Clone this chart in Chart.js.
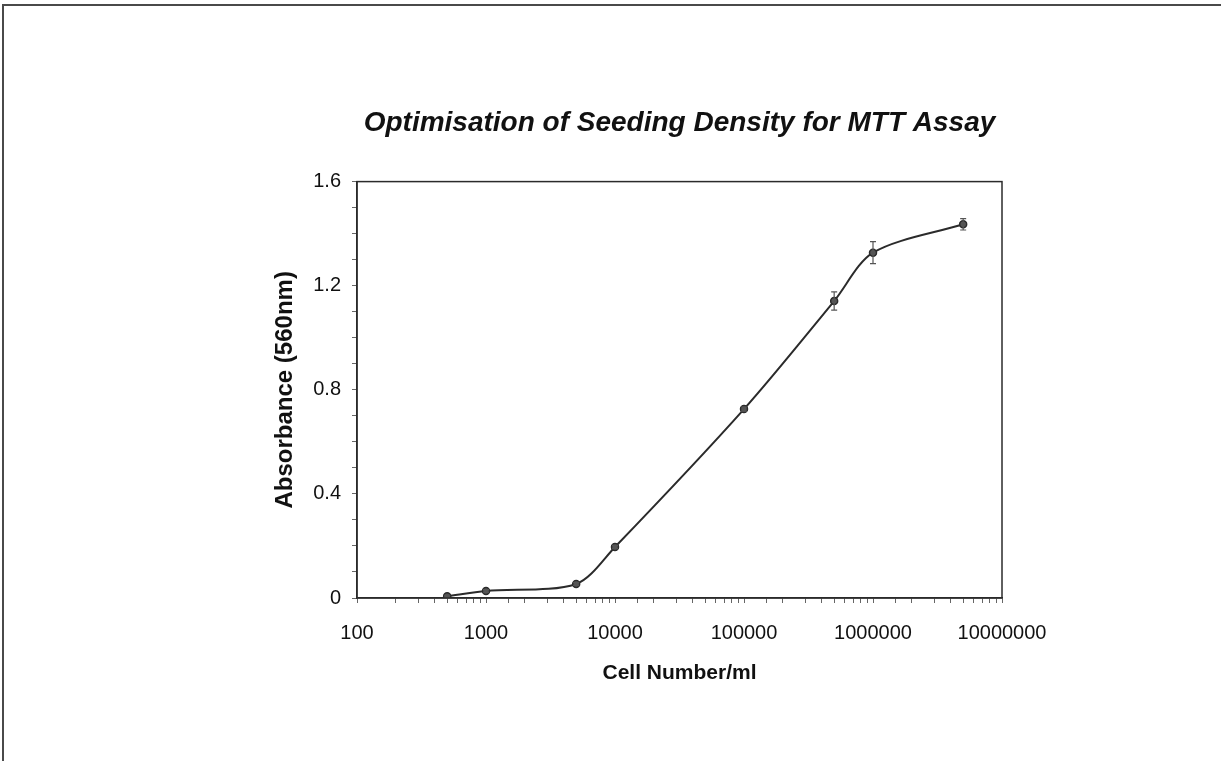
<!DOCTYPE html>
<html>
<head>
<meta charset="utf-8">
<title>Optimisation of Seeding Density for MTT Assay</title>
<script src="https://cdn.jsdelivr.net/npm/chart.js@4.4.1/dist/chart.umd.min.js"></script>
<style>
  html, body { margin: 0; padding: 0; background: #fff; }
  #wrap { position: relative; width: 1221px; height: 761px; overflow: hidden; }
  #frame {
    position: absolute; left: 2px; top: 4px; right: -10px; bottom: -10px;
    border-top: 2px solid #4a4a4a; border-left: 2px solid #4a4a4a;
  }
  #chartMTT { position: absolute; left: 0; top: 0; }
</style>
</head>
<body>
<div id="wrap">
  <div id="frame"></div>
  <canvas id="chartMTT" width="1221" height="761"></canvas>
</div>
<script>
/* MTT seeding density curve */

const cellNumbers = [500, 1000, 5000, 10000, 100000, 500000, 1000000, 5000000];
const absorbance = [0.007, 0.027, 0.054, 0.196, 0.726, 1.141, 1.327, 1.436];
const absorbanceErr = [0.003, 0.005, 0.006, 0.006, 0.008, 0.035, 0.042, 0.022];

const xRange = [100, 10000000];
const yRange = [0, 1.6];
const yMajorLabels = [0, 0.4, 0.8, 1.2, 1.6];

const chartTitle = "Optimisation of Seeding Density for MTT Assay";
const xTitle = "Cell Number/ml";
const yTitle = "Absorbance (560nm)";

const ink = "#2b2b2b";

// box around the plot area (top + right sides)
const plotFrame = {
  id: "plotFrame",
  afterDraw(chart) {
    const { ctx, chartArea: a } = chart;
    ctx.save();
    ctx.strokeStyle = ink;
    ctx.lineWidth = 1.5;
    ctx.strokeRect(a.left, a.top, a.right - a.left, a.bottom - a.top);
    ctx.restore();
  },
};

// vertical error bars with small caps
const errorBars = {
  id: "errorBars",
  afterDatasetsDraw(chart) {
    const { ctx, scales } = chart;
    ctx.save();
    ctx.strokeStyle = "#555";
    ctx.lineWidth = 1.2;
    cellNumbers.forEach((c, i) => {
      const err = absorbanceErr[i];
      if (!err) return;
      const x = scales.x.getPixelForValue(c);
      const yTop = scales.y.getPixelForValue(absorbance[i] + err);
      const yBot = scales.y.getPixelForValue(absorbance[i] - err);
      ctx.beginPath();
      ctx.moveTo(x, yTop);
      ctx.lineTo(x, yBot);
      ctx.moveTo(x - 3, yTop);
      ctx.lineTo(x + 3, yTop);
      ctx.moveTo(x - 3, yBot);
      ctx.lineTo(x + 3, yBot);
      ctx.stroke();
    });
    ctx.restore();
  },
};

function isDecade(v) {
  const l = Math.log10(v);
  return Math.abs(l - Math.round(l)) < 1e-9;
}

Chart.defaults.font.family = "'Liberation Sans', Arial, sans-serif";
Chart.defaults.color = "#111";

new Chart(document.getElementById("chartMTT"), {
  type: "line",
  data: {
    datasets: [
      {
        label: "Absorbance",
        data: cellNumbers.map((c, i) => ({ x: c, y: absorbance[i] })),
        borderColor: ink,
        borderWidth: 2,
        tension: 0.3,
        fill: false,
        pointRadius: 3.5,
        pointBackgroundColor: "#555",
        pointBorderColor: ink,
        pointBorderWidth: 1.5,
      },
    ],
  },
  options: {
    responsive: false,
    animation: false,
    layout: { padding: { left: 271, right: 219, top: 0, bottom: 75 } },
    scales: {
      x: {
        type: "logarithmic",
        min: xRange[0],
        max: xRange[1],
        afterFit: (scale) => { scale.height = 88; },
        border: { display: true, color: ink, width: 1.5 },
        grid: { drawOnChartArea: false, drawTicks: true, tickLength: 5, color: "#666" },
        ticks: {
          autoSkip: false,
          maxRotation: 0,
          padding: 18,
          font: { size: 20 },
          color: "#111",
          callback: (v) => (isDecade(v) ? String(Math.round(v)) : ""),
        },
        title: {
          display: true,
          text: xTitle,
          font: { size: 21, weight: "bold" },
          padding: { top: 0, bottom: 0 },
        },
      },
      y: {
        min: yRange[0],
        max: yRange[1],
        afterFit: (scale) => { scale.width = 86; },
        border: { display: true, color: ink, width: 1.5 },
        grid: { drawOnChartArea: false, drawTicks: true, tickLength: 5, color: "#666" },
        ticks: {
          stepSize: 0.1,
          autoSkip: false,
          padding: 11,
          font: { size: 20 },
          color: "#111",
          callback: (v) => {
            const hit = yMajorLabels.find((m) => Math.abs(m - v) < 1e-6);
            return hit === undefined ? "" : String(hit);
          },
        },
        title: {
          display: true,
          text: yTitle,
          font: { size: 24, weight: "bold" },
          padding: { top: 0, bottom: 0 },
        },
      },
    },
    plugins: {
      legend: { display: false },
      tooltip: { enabled: false },
      title: {
        display: true,
        text: chartTitle,
        fullSize: false,
        color: "#111",
        font: { size: 28, weight: "bold", style: "italic" },
        padding: { top: 106, bottom: 42 },
      },
    },
  },
  plugins: [plotFrame, errorBars],
});
</script>
</body>
</html>
